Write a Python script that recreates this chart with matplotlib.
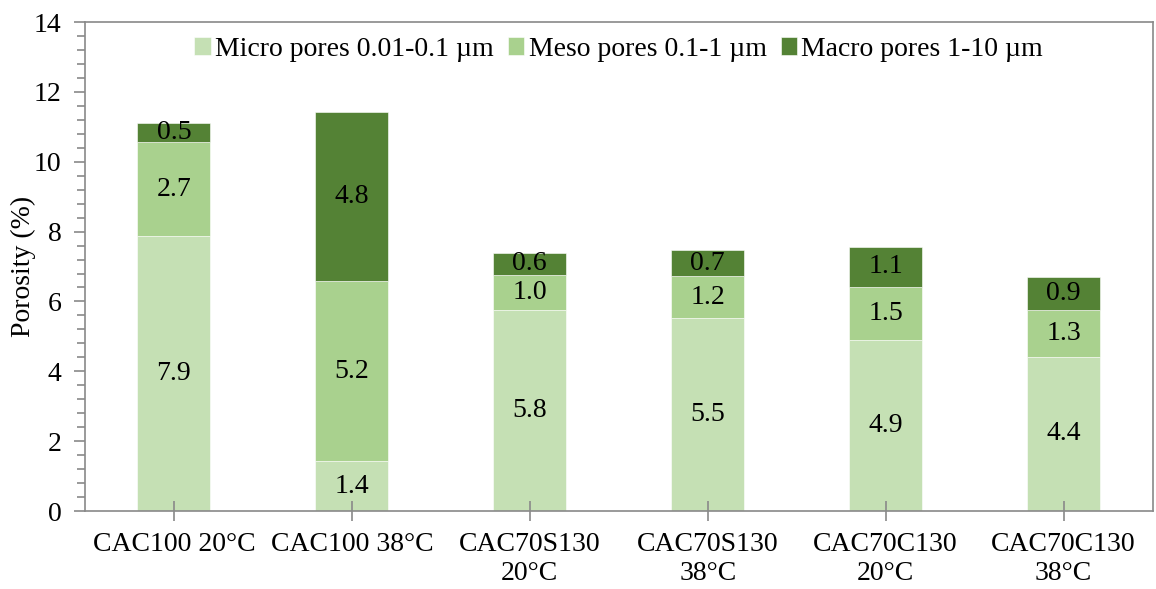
import matplotlib
matplotlib.use("Agg")
import matplotlib.pyplot as plt
from matplotlib.ticker import MultipleLocator
import numpy as np

plt.rcParams['font.family'] = ['Liberation Serif', 'DejaVu Serif']

categories = ["CAC100 20°C", "CAC100 38°C", "CAC70S130\n20°C", "CAC70S130\n38°C",
              "CAC70C130\n20°C", "CAC70C130\n38°C"]
micro = [7.86, 1.42, 5.76, 5.52, 4.90, 4.42]
meso = [2.70, 5.16, 1.01, 1.20, 1.52, 1.34]
macro = [0.54, 4.84, 0.63, 0.74, 1.14, 0.94]
series_names = ["Micro pores 0.01-0.1 µm", "Meso pores 0.1-1 µm", "Macro pores 1-10 µm"]
colors = ["#C5E0B4", "#A9D18E", "#548235"]

FS = 20

fig = plt.figure(figsize=(11.56, 5.89), dpi=100)
ax = fig.add_axes([0.0735, 0.1324, 0.9235, 0.8302])

x = np.arange(len(categories))
width = 0.41
bottom = np.zeros(len(categories))
for vals, name, c in zip([micro, meso, macro], series_names, colors):
    ax.bar(x, vals, width, bottom=bottom, color=c, label=name,
           edgecolor='white', linewidth=0.4)
    for xi, b, v in zip(x, bottom, vals):
        ax.text(xi, b + v / 2, f"{v:.1f}", ha='center', va='center', fontsize=FS, color='black')
    bottom = bottom + np.array(vals)

ax.set_xlim(-0.5, 5.5)
ax.set_ylim(0, 14)
ax.yaxis.set_major_locator(MultipleLocator(2))
ax.yaxis.set_minor_locator(MultipleLocator(0.4))
ax.set_xticks(x)
ax.set_xticklabels(categories, fontsize=FS)
ax.tick_params(axis='y', labelsize=FS, which='major', length=8, width=1.2, color='#898989',
               direction='out', pad=9)
ax.tick_params(axis='y', which='minor', length=6, width=1.2, color='#898989', direction='out')
ax.tick_params(axis='x', length=14, width=1.2, color='#898989', direction='inout', pad=8)
ax.set_ylabel("Porosity (%)", fontsize=FS)
ax.yaxis.set_label_coords(-0.046, 0.5)
for s in ax.spines.values():
    s.set_color('#898989')
    s.set_linewidth(1.2)

ax.legend(loc='upper center', ncol=3, frameon=False, fontsize=FS, handlelength=0.6,
          handleheight=0.6, handletextpad=0.15, columnspacing=0.5, bbox_to_anchor=(0.5, 1.01),
          borderaxespad=0.3)

fig.savefig("out.png", dpi=100)
